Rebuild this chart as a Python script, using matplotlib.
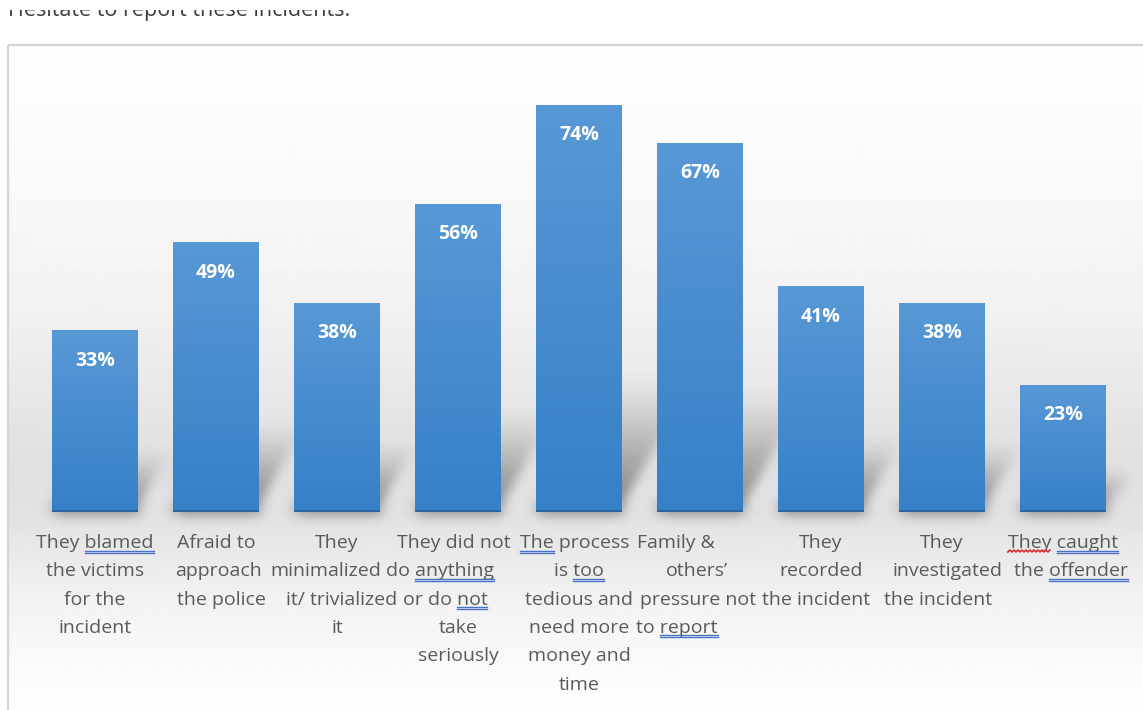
import numpy as np
import matplotlib
matplotlib.use("Agg")
import matplotlib.pyplot as plt
from matplotlib.patches import Rectangle
from matplotlib.collections import PolyCollection
from matplotlib.lines import Line2D
from matplotlib.transforms import IdentityTransform

plt.rcParams['font.family'] = ['Open Sans', 'DejaVu Sans']

# === data ===
values = [33, 49, 38, 56, 74, 67, 41, 38, 23]
categories = [
    ["They blamed", "the victims", "for the", "incident"],
    ["Afraid to", "approach", "the police"],
    ["They", "minimalized", "it/ trivialized", "it"],
    ["They did not", "do anything", "or do not", "take", "seriously"],
    ["The process", "is too", "tedious and", "need more", "money and", "time"],
    ["Family &", "others\u2019", "pressure not", "to report"],
    ["They", "recorded", "the incident"],
    ["They", "investigated", "the incident"],
    ["They caught", "the offender"],
]
# words flagged by the spell checker: (category, line, word, kind)
flagged = [
    (0, 0, "blamed", "blue"), (3, 1, "anything", "blue"), (3, 2, "not", "blue"),
    (4, 0, "The", "blue"), (4, 1, "too", "blue"), (5, 3, "report", "blue"),
    (8, 0, "They", "red"), (8, 0, "caught", "blue"), (8, 1, "offender", "blue"),
]
title = "Hesitate to report these incidents."

# horizontal nudge (pixels) of some wrapped label lines
label_shift = {
    (1, 1): 3, (1, 2): 5, (2, 1): -11, (2, 2): 5, (3, 0): -4, (3, 1): -18,
    (3, 2): -13, (4, 0): -4, (5, 0): -24, (5, 1): -3, (5, 2): -2, (5, 3): -23,
    (6, 2): -5, (7, 1): 6, (7, 2): -4, (8, 1): 8,
}

W, H = 1143, 710
fig = plt.figure(figsize=(W / 100, H / 100), dpi=100)


def gblur(sigma):
    # gaussian blur used as an agg filter for the bar shadows
    r = int(3 * sigma)
    k = np.exp(-0.5 * (np.arange(-r, r + 1) / sigma) ** 2)
    k /= k.sum()

    def f(im, dpi):
        p = np.pad(im, [(2 * r, 2 * r), (2 * r, 2 * r), (0, 0)])
        a = np.pad(p, [(r, r), (0, 0), (0, 0)])
        a = sum(k[i] * a[i:i + p.shape[0]] for i in range(2 * r + 1))
        b = np.pad(a, [(0, 0), (r, r), (0, 0)])
        b = sum(k[i] * b[:, i:i + p.shape[1]] for i in range(2 * r + 1))
        return b, -2 * r, -2 * r
    return f


# === page background and chart frame (pixel units) ===
bg = fig.add_axes([0, 0, 1, 1])
shade = np.interp(np.arange(45, H), [45, 140, 300, 470, 515, 600, 700],
                  [0.995, 0.985, 0.95, 0.875, 0.885, 0.95, 0.995])
bg.imshow(np.repeat(shade[:, None], 2, axis=1), cmap='gray', vmin=0, vmax=1,
          extent=(8, W + 5, H, 45), aspect='auto', interpolation='bilinear')
bg.add_patch(Rectangle((8, 45), W, H, fill=False, ec='#d4d4d4', lw=1.6))
# heading line of the page, cut by the top edge
bg.text(8, 16, title, fontsize=15.5, color='#3c3c3c', va='baseline')
bg.add_patch(Rectangle((0, -5), W, 14.5, fc='white', ec='none', zorder=5))
bg.set_xlim(0, W)
bg.set_ylim(H, 0)
bg.axis('off')

# === bars ===
ax = fig.add_axes([34.5 / W, (H - 512) / H, 1089 / W, 440 / H])
ax.patch.set_alpha(0)
x = np.arange(len(values))
bw = 0.71
top_c = np.array([88, 152, 214]) / 255
bot_c = np.array([54, 128, 200]) / 255
ramp = np.linspace(0, 1, 64)[:, None, None]
bar_img = top_c * (1 - ramp) + bot_c * ramp

ax.bar(x, values, width=bw, color='none', edgecolor='none', zorder=3)
for xi, v in zip(x, values):
    x0, x1 = xi - bw / 2, xi + bw / 2
    ax.imshow(bar_img, extent=(x0, x1, 0, v), aspect='auto',
              interpolation='bilinear', zorder=3)
    ax.plot([x0, x1], [0.1, 0.1], color='#2c64a0', lw=1.4,
            solid_capstyle='butt', zorder=4)

    # slanted drop shadow behind each bar, fading upwards
    hs, ds = 0.33 * v, 0.0086 * v
    n = 16
    polys, cols = [], []
    for k in range(n):
        t0, t1 = k / n, (k + 1) / n
        polys.append([(x0 + ds * t0, hs * t0), (x1 + ds * t0, hs * t0),
                      (x1 + ds * t1, hs * t1), (x0 + ds * t1, hs * t1)])
        cols.append((0.28, 0.28, 0.28, 0.6 * (1 - t0) ** 1.3))
    sh = PolyCollection(polys, facecolors=cols, edgecolors='none',
                        antialiased=False, zorder=2)
    sh.set_agg_filter(gblur(5))
    ax.add_collection(sh)

    ax.annotate(f"{v}%", (xi, v), xytext=(0, -30), textcoords='offset pixels',
                ha='center', va='center', color='white', fontsize=14,
                fontweight='bold', zorder=5)

# category labels, one text per line so flagged words can be found later
texts = {}
for i, lines in enumerate(categories):
    for k, s in enumerate(lines):
        texts[(i, k)] = ax.annotate(
            s, (i, 0), xytext=(label_shift.get((i, k), 0), -31 - 28.3 * k),
            textcoords='offset pixels', ha='center', va='center',
            fontsize=14, color='#5a5a5a', annotation_clip=False)

ax.set_xlim(-0.5, 8.5)
ax.set_ylim(0, 80)
ax.axis('off')

# spell-check underlines
fig.canvas.draw()
rend = fig.canvas.get_renderer()
for i, k, word, kind in flagged:
    t = texts[(i, k)]
    s = t.get_text()
    fp = t.get_fontproperties()
    bb = t.get_window_extent(rend)
    end = s.index(word) + len(word)
    right = bb.x0 + rend.get_text_width_height_descent(s[:end], fp, ismath=False)[0]
    left = right - rend.get_text_width_height_descent(word, fp, ismath=False)[0]
    d = max(rend.get_text_width_height_descent(s, fp, ismath=False)[2],
            rend.get_text_width_height_descent("lp", fp, ismath=False)[2])
    base = bb.y0 + d
    if kind == "blue":
        for off in (2.5, 4.5):
            fig.add_artist(Line2D([left, right], [base - off, base - off],
                                  color='#4a72c9', lw=1.0,
                                  transform=IdentityTransform()))
    else:
        xs = np.arange(left, right + 0.1, 2.0)
        ys = base - 4 + 2.0 * (np.arange(len(xs)) % 2)
        fig.add_artist(Line2D(xs, ys, color='#d03030', lw=1.2,
                              transform=IdentityTransform()))

fig.savefig("out.png", dpi=100)
